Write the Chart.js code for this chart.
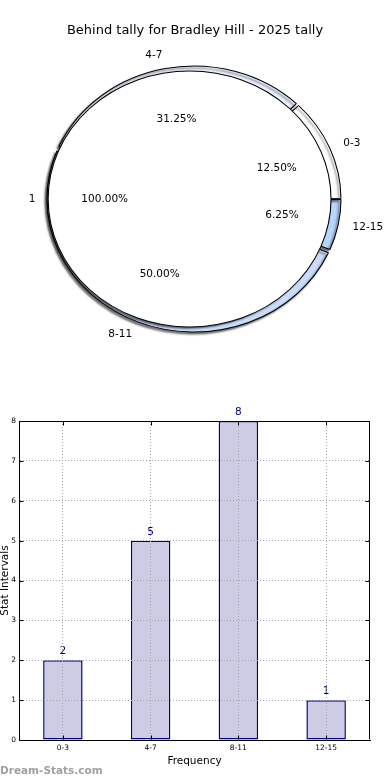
<!DOCTYPE html>
<html><head><meta charset="utf-8">
<script src="https://cdn.jsdelivr.net/npm/chart.js@4.4.1/dist/chart.umd.min.js"></script>
<style>
html,body{margin:0;padding:0;background:#fff;width:390px;height:780px;overflow:hidden;font-family:"DejaVu Sans",sans-serif;}
#pie{position:absolute;left:0;top:0;}
#bar{position:absolute;left:0;top:390px;}
#title{position:absolute;left:0;top:22px;width:390px;text-align:center;font-size:13px;line-height:16px;color:#000;white-space:nowrap;}
#wm{position:absolute;left:0;top:762px;font-size:10.5px;font-weight:bold;line-height:16px;color:#a0a0a0;white-space:nowrap;}
</style></head><body>
<canvas id="pie" width="390" height="390"></canvas>
<div id="title">Behind tally for Bradley Hill - 2025 tally</div>
<canvas id="bar" width="390" height="390"></canvas>
<div id="wm">Dream-Stats.com</div>
<script>
// ---- data ----
const categories = ['0-3', '4-7', '8-11', '12-15'];
const counts = [2, 5, 8, 1];
const innerLabels = ['1'];
const innerValues = [1];
const yTickValues = [0, 1, 2, 3, 4, 5, 6, 7, 8];
const xTitle = 'Frequency';
const yTitle = 'Stat Intervals';
const ringColorsByCategory = ['#ffffff', '#ebf1ff', '#c9dcfb', '#b8d6fc'];

Chart.defaults.font.family = '"DejaVu Sans", sans-serif';
Chart.defaults.color = '#000';

// ---- pie (elliptical, matplotlib style) ----
const SX = 1.105;
// Chart.js draws clockwise from the start angle; reverse so categories run counter-clockwise from east
const ringLabels = categories.slice().reverse();
const ringValues = counts.slice().reverse();
const ringColors = ringColorsByCategory.slice().reverse();
const ringTotal = counts.reduce((a, b) => a + b, 0);
const innerTotal = innerValues.reduce((a, b) => a + b, 0);

function arcGeom(el) {
  const off = (el.options.offset || 0) / 4;
  const mid = (el.startAngle + el.endAngle) / 2;
  const fix = 1 - Math.sin(Math.min(Math.PI, el.circumference || 0));
  const sp = (el.options.spacing || 0) / 2;
  return { cx: el.x + Math.cos(mid) * off, cy: el.y + Math.sin(mid) * off, r: el.outerRadius + off * fix + sp, mid };
}
function shadowOn(ctx) {
  ctx.shadowColor = 'rgba(0,0,0,0.55)';
  ctx.shadowOffsetX = -2; ctx.shadowOffsetY = 2; ctx.shadowBlur = 2;
}
function shadowOff(ctx) {
  ctx.shadowColor = 'rgba(0,0,0,0)';
  ctx.shadowOffsetX = 0; ctx.shadowOffsetY = 0; ctx.shadowBlur = 0;
}

const ellipsePlugin = {
  id: 'ellipse',
  beforeDatasetsDraw(chart) {
    const ctx = chart.ctx, a = chart.chartArea;
    const cx = (a.left + a.right) / 2, cy = (a.top + a.bottom) / 2;
    ctx.save();
    ctx.translate(cx, cy); ctx.scale(SX, 1); ctx.translate(-cx, -cy);
  },
  beforeDatasetDraw(chart, args) {
    if (args.index === 0) shadowOn(chart.ctx); else shadowOff(chart.ctx);
  },
  afterDatasetDraw(chart, args) {
    const ctx = chart.ctx;
    const g = arcGeom(chart.getDatasetMeta(1).data[0]);
    if (args.index === 0) {
      // shadow + seamless white base under the inner pie
      ctx.save();
      shadowOn(ctx);
      ctx.fillStyle = '#ffffff';
      ctx.beginPath(); ctx.arc(g.cx, g.cy, g.r, 0, Math.PI * 2); ctx.fill();
      ctx.restore();
      shadowOff(ctx);
    } else if (args.index === 1) {
      ctx.save();
      shadowOff(ctx);
      ctx.lineWidth = 1; ctx.strokeStyle = '#000';
      ctx.beginPath(); ctx.arc(g.cx, g.cy, g.r, 0, Math.PI * 2); ctx.stroke();
      ctx.restore();
    }
  },
  afterDatasetsDraw(chart) {
    const ctx = chart.ctx;
    ctx.restore();
    const a = chart.chartArea;
    const c0 = (a.left + a.right) / 2;
    const sx = (x) => c0 + (x - c0) * SX;
    ctx.save();
    ctx.fillStyle = '#000';
    ctx.font = '10.5px "DejaVu Sans"';
    ctx.textBaseline = 'middle';
    const put = (g, dl, dp, label, pct) => {
      const c = Math.cos(g.mid), s = Math.sin(g.mid);
      ctx.textAlign = c > 1e-6 ? 'left' : (c < -1e-6 ? 'right' : 'center');
      ctx.fillText(label, sx(g.cx + c * g.r * dl), g.cy + s * g.r * dl);
      ctx.textAlign = 'center';
      ctx.fillText(pct, sx(g.cx + c * g.r * dp), g.cy + s * g.r * dp);
    };
    chart.getDatasetMeta(0).data.forEach((el, i) => {
      put(arcGeom(el), 1.1, 0.61, ringLabels[i], (ringValues[i] / ringTotal * 100).toFixed(2) + '%');
    });
    chart.getDatasetMeta(1).data.forEach((el, i) => {
      put(arcGeom(el), 1.09, 0.6, innerLabels[i], (innerValues[i] / innerTotal * 100).toFixed(2) + '%');
    });
    ctx.restore();
  }
};

new Chart(document.getElementById('pie'), {
  type: 'doughnut',
  data: {
    labels: ringLabels,
    datasets: [
      { data: ringValues, backgroundColor: ringColors, borderColor: '#000', borderWidth: 1,
        weight: 1, radius: 131.5, cutout: 0, spacing: 3, rotation: 90, order: 1 },
      { data: innerValues, backgroundColor: ['#ffffff'], borderWidth: 0,
        weight: 1, radius: 248, cutout: 0, rotation: 90, offset: [16], order: 0 }
    ]
  },
  options: {
    responsive: false, animation: false, devicePixelRatio: 1, events: [],
    layout: { padding: { left: 0, right: 2, top: 8, bottom: 0 } },
    plugins: { legend: { display: false }, tooltip: { enabled: false }, title: { display: false } }
  },
  plugins: [ellipsePlugin]
});

// ---- bar chart ----
const framePlugin = {
  id: 'frame',
  afterDraw(chart) {
    const { ctx, chartArea: a, scales: { x, y } } = chart;
    ctx.save();
    ctx.strokeStyle = '#000'; ctx.lineWidth = 1;
    const L = Math.round(a.left) + 0.5, R = Math.round(a.right) - 0.5;
    const T = Math.round(a.top) + 0.5, B = Math.round(a.bottom) - 0.5;
    ctx.beginPath(); ctx.moveTo(L, T); ctx.lineTo(R, T); ctx.lineTo(R, B); ctx.stroke();
    ctx.beginPath();
    y.ticks.forEach(t => {
      const py = Math.round(y.getPixelForValue(t.value)) + 0.5;
      ctx.moveTo(L, py); ctx.lineTo(L + 4, py);
      ctx.moveTo(R, py); ctx.lineTo(R - 4, py);
    });
    x.ticks.forEach((t, i) => {
      const px = Math.round(x.getPixelForTick(i)) + 0.5;
      ctx.moveTo(px, B); ctx.lineTo(px, B - 4);
      ctx.moveTo(px, T); ctx.lineTo(px, T + 4);
    });
    ctx.stroke();
    ctx.fillStyle = '#000';
    ctx.font = '10.5px "DejaVu Sans"';
    ctx.translate(8, (a.top + a.bottom) / 2);
    ctx.rotate(-Math.PI / 2);
    ctx.textAlign = 'center'; ctx.textBaseline = 'alphabetic';
    ctx.fillText(yTitle, 0, 0);
    ctx.restore();
  }
};
const valuePlugin = {
  id: 'values',
  afterDatasetsDraw(chart) {
    const ctx = chart.ctx;
    const meta = chart.getDatasetMeta(0);
    ctx.save();
    ctx.fillStyle = '#00008b';
    ctx.font = '10.5px "DejaVu Sans"';
    ctx.textAlign = 'center'; ctx.textBaseline = 'middle';
    meta.data.forEach((el, i) => ctx.fillText(String(counts[i]), el.x, el.y - 8.5));
    ctx.restore();
  }
};

new Chart(document.getElementById('bar'), {
  type: 'bar',
  data: {
    labels: categories,
    datasets: [{ data: counts, backgroundColor: 'rgb(204,204,229)', borderColor: '#000080', borderWidth: 1.5,
      borderSkipped: false, barPercentage: 0.45, categoryPercentage: 1 }]
  },
  options: {
    responsive: false, animation: false, devicePixelRatio: 1, events: [],
    layout: { padding: { left: 0, right: 20, top: 31, bottom: 0 } },
    plugins: { legend: { display: false }, tooltip: { enabled: false } },
    scales: {
      x: {
        grid: { offset: false, color: '#a8a8a8', drawTicks: false, z: 1 },
        border: { color: '#000', dash: [1, 2], z: 2 },
        ticks: { font: { size: 7.5 }, color: '#000', padding: 4 },
        title: { display: true, text: xTitle, font: { size: 10.5 }, color: '#000', padding: { top: 0, bottom: 12 } },
        afterFit(s) { s.height = 40; }
      },
      y: {
        min: 0, max: 8,
        afterBuildTicks(s) { s.ticks = yTickValues.map(v => ({ value: v })); },
        grid: { color: '#a8a8a8', drawTicks: false, z: 1 },
        border: { color: '#000', dash: [1, 2], z: 2 },
        ticks: { font: { size: 7.5 }, color: '#000', padding: 3 },
        afterFit(s) { s.width = 19; }
      }
    }
  },
  plugins: [valuePlugin, framePlugin]
});
</script>
</body></html>
